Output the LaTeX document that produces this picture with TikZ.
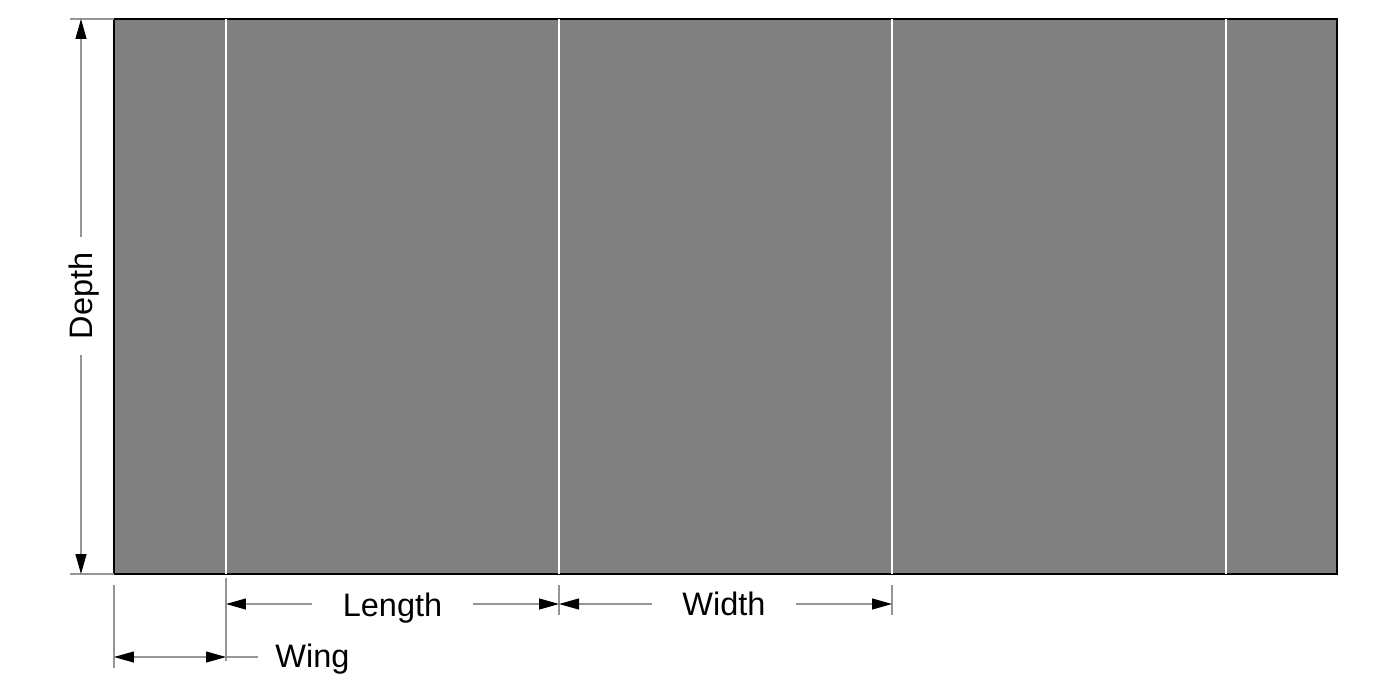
\documentclass[tikz,border=0pt]{standalone}
\usepackage{fontspec}
\setmainfont{Liberation Sans}
\usetikzlibrary{arrows.meta, positioning, calc}
\definecolor{extgray}{RGB}{150,150,150}
\definecolor{panelgray}{RGB}{128,128,128}
\tikzset{
  panel/.style={fill=panelgray, draw=black, line width=1pt},
  fold/.style={draw=white, line width=1.2pt},
  extline/.style={draw=extgray, line width=0.6pt},
  dimline/.style={extline, >={Triangle[length=4mm, width=2.2mm, color=black]}},
  dimlabel/.style={font=\fontsize{18.5}{20}\selectfont, inner sep=0pt}
}

\begin{document}
\begin{tikzpicture}[x=0.02cm, y=-0.02cm]
    \useasboundingbox (0,0) rectangle (1400,700);
    % panel with fold lines
    \coordinate (tl) at (114,19);
    \coordinate (br) at (1337,574);
    \draw[panel] (tl) rectangle (br);
    \foreach \fx in {226,559,892,1226}
      \draw[fold] (\fx,19) -- (\fx,574);

    % depth
    \coordinate (dtop) at (81,19);
    \coordinate (dbot) at (81,574);
    \node[dimlabel, rotate=90, anchor=base] (depth) at (92,296) {Depth};
    \draw[extline] (70,19) -- (tl);
    \draw[extline] (70,574) -- (114,574);
    \draw[dimline, ->, shorten <=3mm] (depth.east -| dtop) -- (dtop);
    \draw[dimline, ->, shorten <=3mm] (depth.west -| dbot) -- (dbot);

    % extension lines below
    \draw[extline] (114,585) -- (114,668);
    \draw[extline] (226,578) -- (226,661);
    \draw[extline] (559,585) -- (559,615);
    \draw[extline] (892,585) -- (892,615);

    % length
    \coordinate (lenL) at (226,604);
    \coordinate (lenR) at (559,604);
    \node[dimlabel, anchor=base] (length) at (392.5,616) {Length};
    \draw[dimline, ->, shorten <=6mm] (length.west |- lenL) -- (lenL);
    \draw[dimline, ->, shorten <=6mm] (length.east |- lenR) -- (lenR);

    % width
    \coordinate (widL) at (559,604);
    \coordinate (widR) at (892,604);
    \node[dimlabel, anchor=base] (width) at (724,615) {Width};
    \draw[dimline, ->, shorten <=6mm] (width.west |- widL) -- (widL);
    \draw[dimline, ->, shorten <=6mm] (width.east |- widR) -- (widR);

    % wing
    \coordinate (wingL) at (114,657);
    \coordinate (wingR) at (226,657);
    \node[dimlabel, anchor=base west] (wing) at (275,667) {Wing};
    \draw[dimline, <->] (wingL) -- (wingR);
    \draw[extline, shorten >=3.4mm] (wingR) -- (wing.west |- wingR);
\end{tikzpicture}
\end{document}
